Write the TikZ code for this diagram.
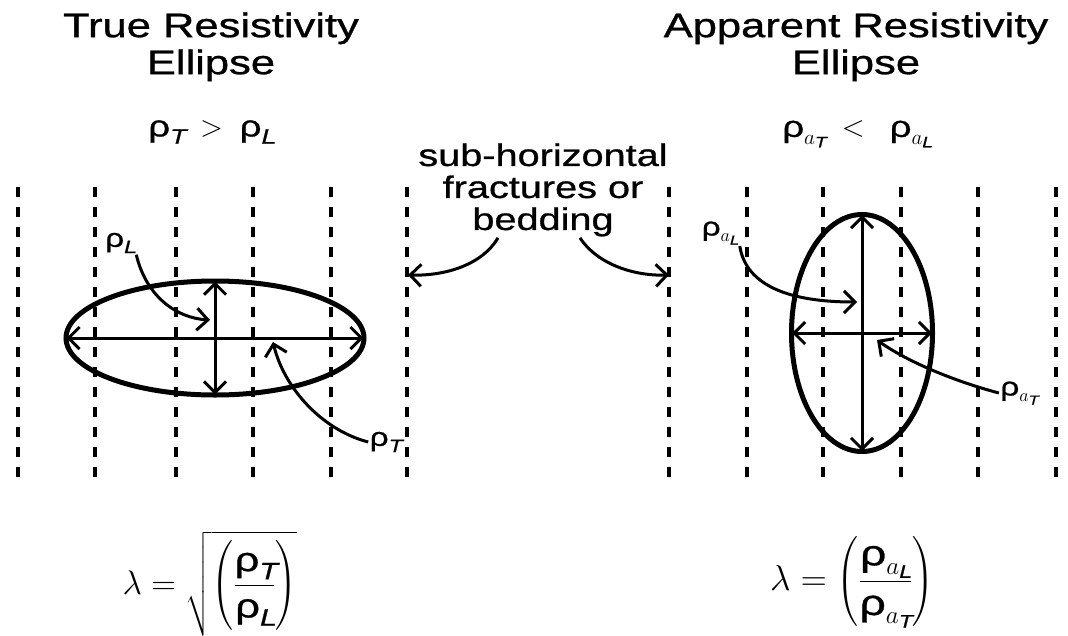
\RequirePackage{fix-cm}
\documentclass[tikz,border=0pt]{standalone}
\usepackage{amsmath}
\usepackage{fontspec}
\setmainfont{Liberation Sans}[FakeStretch=1.28,FakeBold=0.9]
\usepackage{tikz}
\usetikzlibrary{arrows.meta,positioning,shapes.geometric}
\newcommand{\urho}{\text{ρ}}

\begin{document}
\begin{tikzpicture}[x=1pt,y=-1pt,>={Straight Barb[length=11pt,width=22pt]},line width=3pt]
\tikzstyle{ttl}=[font=\fontsize{34}{37}\selectfont,align=center,inner sep=0pt]
\tikzstyle{mid}=[font=\fontsize{31}{32}\selectfont,align=center,inner sep=0pt]
\tikzstyle{mth}=[font=\fontsize{30}{32}\selectfont,inner sep=0pt]
\tikzstyle{lbl}=[font=\fontsize{26}{28}\selectfont,inner sep=0pt]
\tikzstyle{ell}=[draw,ellipse,line width=5pt,inner sep=0pt]
\tikzstyle{bed}=[line width=3.5pt,dash pattern=on 10pt off 10pt]
\useasboundingbox (0,0) rectangle (1068,635);
% titles
\node[ttl,anchor=north] (tre) at (211,11) {True Resistivity\\Ellipse};
\node[ttl,anchor=north] (app) at (856,11) {Apparent Resistivity\\Ellipse};
\node[mth] (relT) at (211,132) {$\urho_{\mathit{T}}\;>\;\urho_{\mathit{L}}$};
\node[mth] (relA) at (857,134) {$\urho_{a_{\mathit{T}}}\;<\;\;\urho_{a_{\mathit{L}}}$};
% bedding planes
\foreach \x in {18,95,176,253,331,407,669,747,823,901,978,1056}
  \draw[bed] (\x,187) -- (\x,477);
\node[mid,anchor=north] (bedtxt) at (543,142) {sub-horizontal\\fractures or\\bedding};
\coordinate (bedL) at (408,275);
\coordinate (bedR) at (669,275);
\draw[->] ([xshift=-45pt]bedtxt.south) .. controls (482,265) and (445,276) .. (bedL);
\draw[->] ([xshift=37pt]bedtxt.south) .. controls (598,265) and (635,276) .. (bedR);
% true resistivity ellipse
\node[ell,minimum width=298pt,minimum height=114pt] (elT) at (215,338) {};
\draw[<->,shorten <=3pt,shorten >=3pt] (elT.west) -- (elT.east);
\draw[<->,shorten <=3pt,shorten >=3pt] (elT.north) -- (elT.south);
\node[lbl] (lblL) at (120,243) {$\urho_{\mathit{L}}$};
\node[lbl] (lblT) at (385,442) {$\urho_{\mathit{T}}$};
\coordinate (pL) at (210,320);
\coordinate (pT) at (273,342);
\draw[->] (lblL.south east) .. controls (146,296) and (176,318) .. (pL);
\draw[->] (lblT.west) .. controls (322,430) and (284,388) .. (pT);
% apparent resistivity ellipse
\node[ell,minimum width=141pt,minimum height=237pt] (elA) at (862,333) {};
\draw[<->,shorten <=3pt,shorten >=3pt] (elA.west) -- (elA.east);
\draw[<->,shorten <=3pt,shorten >=3pt] (elA.north) -- (elA.south);
\node[lbl] (lblaL) at (720,233) {$\urho_{a_{\mathit{L}}}$};
\node[lbl] (lblaT) at (1019,393) {$\urho_{a_{\mathit{T}}}$};
\coordinate (paL) at (857,302);
\coordinate (paT) at (877,340);
\draw[->] (lblaL.south east) .. controls (746,286) and (790,302) .. (paL);
\draw[->] (lblaT.west) .. controls (950,380) and (905,360) .. (paT);
% anisotropy coefficients
\node[mth,font=\fontsize{34}{36}\selectfont] (lamT) at (210,584) {$\lambda = \sqrt{\left(\dfrac{\urho_{\mathit{T}}}{\urho_{\mathit{L}}}\right)}$};
\node[mth,font=\fontsize{36}{38}\selectfont] (lamA) at (852,582) {$\lambda = \left(\dfrac{\urho_{a_{\mathit{L}}}}{\urho_{a_{\mathit{T}}}}\right)$};
\end{tikzpicture}
\end{document}
